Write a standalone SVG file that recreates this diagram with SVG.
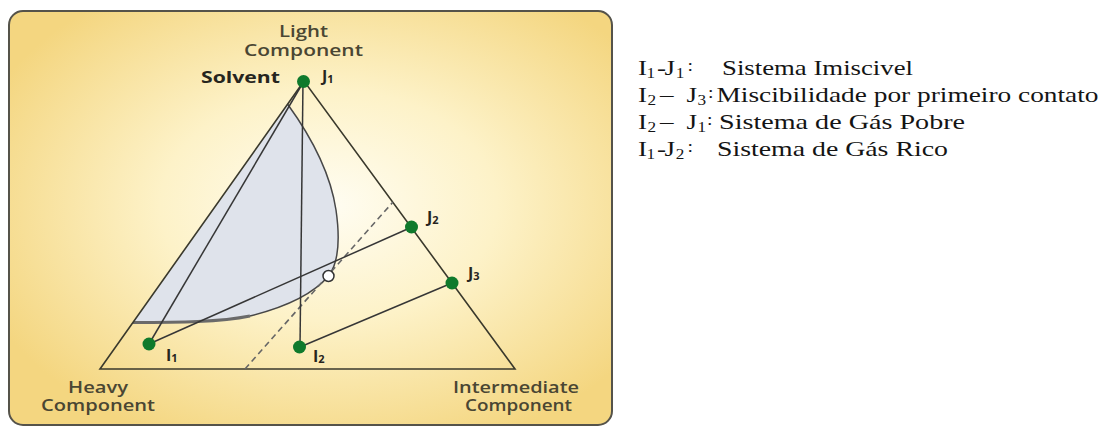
<svg xmlns="http://www.w3.org/2000/svg" width="1106" height="428" viewBox="0 0 1106 428">
<defs>
<radialGradient id="bg" cx="53%" cy="47%" r="62%">
<stop offset="0" stop-color="#fffdf2"/>
<stop offset="0.45" stop-color="#fdf2c8"/>
<stop offset="1" stop-color="#f4d680"/>
</radialGradient>
<style>
.edge{fill:none;stroke:#3a392c;stroke-width:1.6}
.tie{fill:none;stroke:#363636;stroke-width:1.5}
.dash{fill:none;stroke:#666;stroke-width:1.6;stroke-dasharray:6 4}
.dot{fill:#0f7a2c}
.lab{font-family:"Open Sans","Liberation Sans",sans-serif;font-weight:600;fill:#4a4633;font-size:16px}
.pt{font-family:"Open Sans","Liberation Sans",sans-serif;font-weight:700;fill:#26251e}
.ser{font-family:"Liberation Serif","Times New Roman",serif;fill:#141414}
</style>
</defs>
<rect x="0" y="0" width="1106" height="428" fill="#ffffff"/>
<rect x="9" y="11" width="603" height="414" rx="14" ry="14" fill="url(#bg)" stroke="#55534a" stroke-width="2"/>

<g id="binodal">
<path d="M133,322.5 L287.5,104 C310,135 330,170 336,210 C341,245 337,265 328.5,276 C315,292 290,306 250,316 C220,322 180,322.5 133,322.5 Z" fill="#dfe3eb" stroke="none"/>
<path d="M287.5,104 C310,135 330,170 336,210 C341,245 337,265 328.5,276 C315,292 290,306 250,316" fill="none" stroke="#474747" stroke-width="1.5"/>
<path d="M250,316 C220,322 180,322.5 133,322.5" fill="none" stroke="#6a6a6a" stroke-width="3"/>
</g>

<g id="triangle">
<path class="edge" d="M304,81 L100,369 L515,369 Z"/>
</g>

<g id="connectors">
<line class="dash" x1="245" y1="369" x2="393" y2="202"/>
<line class="tie" x1="149" y1="344" x2="304" y2="81"/>
<line class="tie" x1="149" y1="344" x2="412" y2="227"/>
<line class="tie" x1="303" y1="81" x2="300" y2="347"/>
<line class="tie" x1="300" y1="347" x2="452" y2="283"/>
</g>

<g id="plait"><circle cx="328.5" cy="276" r="5.5" fill="#ffffff" stroke="#333" stroke-width="1.5"/></g>
<g id="J1"><circle class="dot" cx="303.5" cy="81.5" r="6.5"/><text class="pt" x="322" y="82" font-size="16">J<tspan font-size="11" dy="1">1</tspan></text></g>
<g id="J2"><circle class="dot" cx="411.5" cy="227" r="6.5"/><text class="pt" x="427" y="223" font-size="16">J<tspan font-size="11" dy="1">2</tspan></text></g>
<g id="J3"><circle class="dot" cx="452" cy="283" r="6.5"/><text class="pt" x="468" y="279" font-size="16">J<tspan font-size="11" dy="1">3</tspan></text></g>
<g id="I1"><circle class="dot" cx="149" cy="344" r="6.5"/><text class="pt" x="166" y="361" font-size="16">I<tspan font-size="11" dy="1">1</tspan></text></g>
<g id="I2"><circle class="dot" cx="299.5" cy="347" r="6.5"/><text class="pt" x="313" y="362" font-size="16">I<tspan font-size="11" dy="1">2</tspan></text></g>

<g id="light">
<text class="lab" x="279" y="37" textLength="49" lengthAdjust="spacingAndGlyphs">Light</text>
<text class="lab" x="244" y="56" textLength="119" lengthAdjust="spacingAndGlyphs">Component</text>
</g>
<g id="solvent"><text class="pt" x="201" y="83" font-size="16" fill="#1e1e1e" textLength="79" lengthAdjust="spacingAndGlyphs">Solvent</text></g>
<g id="heavy">
<text class="lab" x="68" y="393" textLength="60" lengthAdjust="spacingAndGlyphs">Heavy</text>
<text class="lab" x="41" y="411" textLength="114" lengthAdjust="spacingAndGlyphs">Component</text>
</g>
<g id="intermediate">
<text class="lab" x="453" y="393" textLength="126" lengthAdjust="spacingAndGlyphs">Intermediate</text>
<text class="lab" x="465" y="411" textLength="107" lengthAdjust="spacingAndGlyphs">Component</text>
</g>

<g id="legend" transform="matrix(1.23,0,0,1,-146.74,0)" class="ser">
<text y="75" font-size="22"><tspan x="638">I</tspan><tspan x="644.9" font-size="14" dy="3">1</tspan><tspan x="653.4" dy="-3">-</tspan><tspan x="659.5">J</tspan><tspan x="668.6" font-size="14" dy="3">1</tspan><tspan x="678.2" font-size="16" dy="-7">:</tspan></text>
<text x="706.3" y="75" font-size="22" textLength="155.3" lengthAdjust="spacingAndGlyphs">Sistema Imiscivel</text>
<text y="102" font-size="22"><tspan x="638">I</tspan><tspan x="645.7" font-size="14" dy="3">2</tspan><tspan x="655.9" dy="-3">–</tspan><tspan x="677.4">J</tspan><tspan x="686.3" font-size="14" dy="3">3</tspan><tspan x="694.9" font-size="16" dy="-7">:</tspan></text>
<text x="701.8" y="102" font-size="22" textLength="310.6" lengthAdjust="spacingAndGlyphs">Miscibilidade por primeiro contato</text>
<text y="129" font-size="22"><tspan x="638">I</tspan><tspan x="645.7" font-size="14" dy="3">2</tspan><tspan x="655.9" dy="-3">–</tspan><tspan x="677.4">J</tspan><tspan x="686.3" font-size="14" dy="3">1</tspan><tspan x="694.1" font-size="16" dy="-7">:</tspan></text>
<text x="703.9" y="129" font-size="22" textLength="200" lengthAdjust="spacingAndGlyphs">Sistema de Gás Pobre</text>
<text y="156" font-size="22"><tspan x="638">I</tspan><tspan x="644.9" font-size="14" dy="3">1</tspan><tspan x="653.4" dy="-3">-</tspan><tspan x="659.5">J</tspan><tspan x="668.6" font-size="14" dy="3">2</tspan><tspan x="678.2" font-size="16" dy="-7">:</tspan></text>
<text x="702.2" y="156" font-size="22" textLength="187.8" lengthAdjust="spacingAndGlyphs">Sistema de Gás Rico</text>
</g>
</svg>
